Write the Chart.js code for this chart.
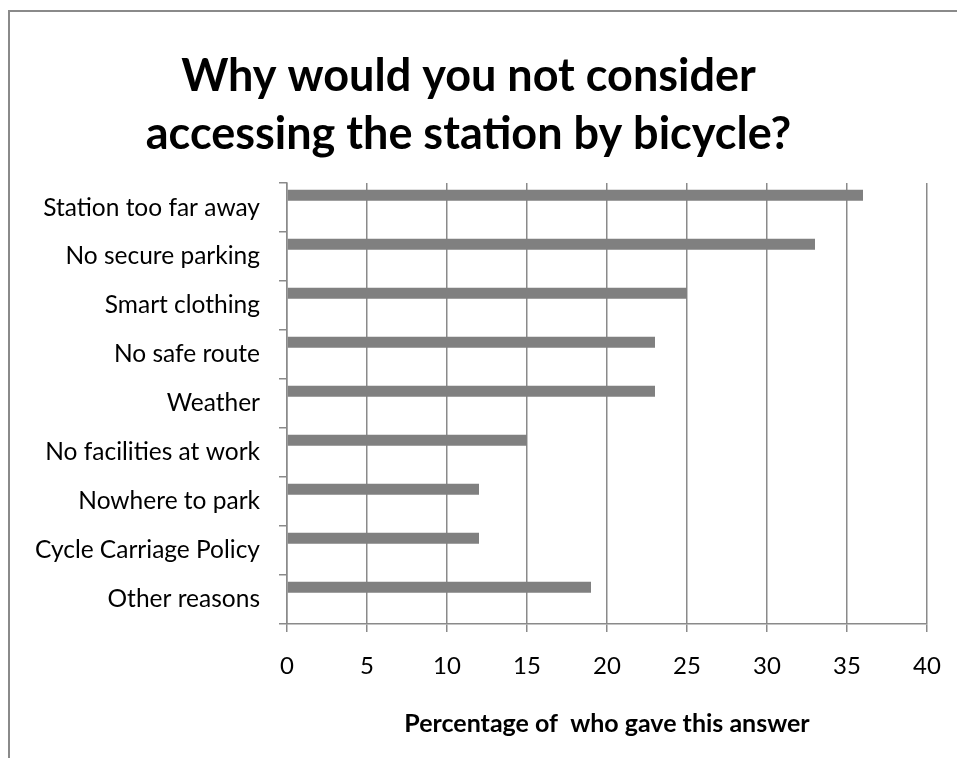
<!DOCTYPE html>
<html>
<head>
<meta charset="utf-8">
<script src="https://cdn.jsdelivr.net/npm/chart.js@4.4.1/dist/chart.umd.min.js"></script>
<style>
  html, body { margin: 0; padding: 0; background: #fff; overflow: hidden; }
  #frame {
    position: absolute; left: 8px; top: 10px;
    width: 949px; height: 748px;
    border-top: 2px solid #8a8a8a; border-left: 2px solid #8a8a8a;
  }
  #chart { display: block; }
</style>
</head>
<body>
<div id="frame"><canvas id="chart" width="947" height="746"></canvas></div>
<script>
const reasons = [
  'Station too far away',
  'No secure parking',
  'Smart clothing',
  'No safe route',
  'Weather',
  'No facilities at work',
  'Nowhere to park',
  'Cycle Carriage Policy',
  'Other reasons'
];
const percentages = [36, 33, 25, 23, 23, 15, 12, 12, 19];
const emptySeries = [null, null, null, null, null, null, null, null, null];
const xTicks = [0, 5, 10, 15, 20, 25, 30, 35, 40];

const axisGrey = '#8a8a8a';
const fontName = 'Lato, "Liberation Sans", sans-serif';

const ctx = document.getElementById('chart').getContext('2d');
new Chart(ctx, {
  type: 'bar',
  data: {
    labels: reasons,
    datasets: [
      { label: 'Percentage', data: percentages, backgroundColor: '#808080',
        categoryPercentage: 1, barPercentage: 0.45 },
      // empty second series, like the Excel original, so bars sit in the upper half of each row
      { label: 'Blank', data: emptySeries, backgroundColor: '#808080',
        categoryPercentage: 1, barPercentage: 0.45 }
    ]
  },
  options: {
    indexAxis: 'y',
    responsive: false,
    animation: false,
    layout: { padding: { left: 0, right: 30, top: 0, bottom: 0 } },
    plugins: {
      legend: { display: false },
      tooltip: { enabled: false },
      title: {
        display: true,
        text: ['Why would you not consider', 'accessing the station by bicycle?'],
        color: '#000',
        font: { family: fontName, size: 45, weight: 'bold', lineHeight: 1.29 },
        padding: { top: 35, bottom: 20 }
      }
    },
    scales: {
      x: {
        min: 0, max: 40,
        afterBuildTicks: s => { s.ticks = xTicks.map(v => ({ value: v })); },
        afterFit: s => { s.height = 134; s.paddingLeft = 0; s.paddingRight = 0; },
        grid: { color: axisGrey, lineWidth: 1.5, tickLength: 8 },
        border: { color: axisGrey, width: 1.5 },
        ticks: { color: '#000', padding: 20, font: { family: fontName, size: 24 } },
        title: {
          display: true,
          text: 'Percentage of  who gave this answer',
          color: '#000',
          font: { family: fontName, size: 25, weight: 'bold' },
          padding: { top: 0, bottom: 19 }
        }
      },
      y: {
        afterFit: s => { s.width = 277; },
        grid: { drawOnChartArea: false, color: axisGrey, lineWidth: 1.5, tickLength: 8, offset: true },
        border: { color: axisGrey, width: 1.5 },
        ticks: { color: '#000', padding: 19, font: { family: fontName, size: 24.5 } }
      }
    }
  }
});
</script>
</body>
</html>
